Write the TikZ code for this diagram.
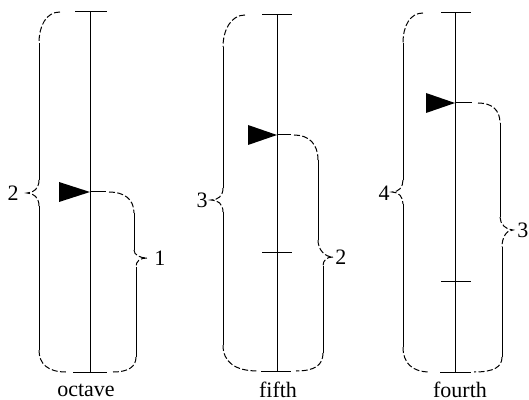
\documentclass[tikz,border=0pt]{standalone}
\usepackage{fontspec}
\setmainfont{Liberation Serif}
\usepackage{tikz}
\usetikzlibrary{arrows}

\tikzset{
  axis/.style={line width=0.5pt},
  curl/.style={line width=0.5pt, dash pattern=on 3pt off 1.2pt},
  lbl/.style={inner sep=0pt, font=\fontsize{11}{13}\selectfont}
}

\begin{document}
\begin{tikzpicture}[x=0.5pt, y=-0.5pt]
\useasboundingbox (0,0) rectangle (529,400);

\coordinate (oTop) at (90,12);
\coordinate (oBot) at (90,372);
\coordinate (oTip) at (90,192);
\coordinate (oEnd) at (106,192);
\draw[axis] (oTop) -- (oBot);
\draw[axis] (oTop) ++(-15,0) -- ++(32,0);
\draw[axis] (oBot) ++(-17,0) -- ++(34,0);
\draw[axis] (oTip) -- (oEnd);
\fill[black] (oTip) -- ++(-31,-10) -- ++(0,20) -- cycle;
\draw[axis] (39,43) -- (39,180) (39,206) -- (39,350);
\draw[curl] (60,12) .. controls (46,12) and (39,26) .. (39,43)
  (39,180) .. controls (39,188) and (34,193) .. (27,193) .. controls (34,193) and (39,198) .. (39,206)
  (39,350) .. controls (39,364) and (48,372) .. (66,372);
\draw[axis] (134,213) -- (134,250) (136,267) -- (136,357);
\draw[curl] (109,192) .. controls (124,192) and (134,199) .. (134,213)
  (134,250) .. controls (134,255) and (140,258) .. (147,258) .. controls (140,258) and (136,261) .. (136,267)
  (136,357) .. controls (136,367) and (128,372) .. (113,372);
\node[lbl, anchor=east] (two) at (19,193) {2};
\node[lbl, anchor=west] (one) at (154,258) {1};
\node[lbl] (octave) at (86,390) {octave};

\coordinate (fTop) at (277,15);
\coordinate (fBot) at (277,371);
\coordinate (fMid) at (277,253);
\coordinate (fTip) at (277,135);
\coordinate (fEnd) at (291,135);
\draw[axis] (fTop) -- (fBot);
\draw[axis] (fTop) ++(-15,0) -- ++(30,0);
\draw[axis] (fMid) ++(-15,0) -- ++(30,0);
\draw[axis] (fBot) ++(-16,0) -- ++(30,0);
\draw[axis] (fTip) -- (fEnd);
\fill[black] (fTip) -- ++(-29,-10) -- ++(0,20) -- cycle;
\draw[axis] (223,47) -- (223,188) (223,212) -- (223,345);
\draw[curl] (245,15) .. controls (231,15) and (223,30) .. (223,47)
  (223,188) .. controls (223,196) and (218,200) .. (211,200) .. controls (218,200) and (223,204) .. (223,212)
  (223,345) .. controls (223,362) and (235,371) .. (258,371);
\draw[axis] (318,160) -- (318,240) (323,266) -- (323,353);
\draw[curl] (294,135) .. controls (309,135) and (318,144) .. (318,160)
  (318,240) .. controls (318,250) and (325,257) .. (333,257) .. controls (327,257) and (323,260) .. (323,266)
  (323,353) .. controls (323,365) and (315,371) .. (296,371);
\node[lbl, anchor=east] (three) at (208,200) {3};
\node[lbl, anchor=west] (twoF) at (335,257) {2};
\node[lbl] (fifth) at (278,390) {fifth};

\coordinate (qTop) at (455,13);
\coordinate (qBot) at (455,372);
\coordinate (qMid) at (455,282);
\coordinate (qTip) at (455,103);
\coordinate (qEnd) at (472,103);
\draw[axis] (qTop) -- (qBot);
\draw[axis] (qTop) ++(-14,0) -- ++(30,0);
\draw[axis] (qMid) ++(-14,0) -- ++(30,0);
\draw[axis] (qBot) ++(-15,0) -- ++(31,0);
\draw[axis] (qTip) -- (qEnd);
\fill[black] (qTip) -- ++(-29,-10) -- ++(0,20) -- cycle;
\draw[axis] (403,43) -- (403,180) (403,204) -- (403,347);
\draw[curl] (423,13) .. controls (410,13) and (403,26) .. (403,43)
  (403,180) .. controls (403,187) and (399,192) .. (392,192) .. controls (399,192) and (403,197) .. (403,204)
  (403,347) .. controls (403,363) and (412,372) .. (430,372);
\draw[axis] (500,123) -- (500,217) (502,247) -- (502,357);
\draw[curl] (478,103) .. controls (492,103) and (500,110) .. (500,123)
  (500,217) .. controls (500,224) and (506,230) .. (513,230) .. controls (506,230) and (502,238) .. (502,247)
  (502,357) .. controls (502,367) and (494,372) .. (474,372);
\node[lbl, anchor=east] (four) at (390,193) {4};
\node[lbl, anchor=west] (threeQ) at (517,230) {3};
\node[lbl] (fourth) at (460,390) {fourth};
\end{tikzpicture}
\end{document}
